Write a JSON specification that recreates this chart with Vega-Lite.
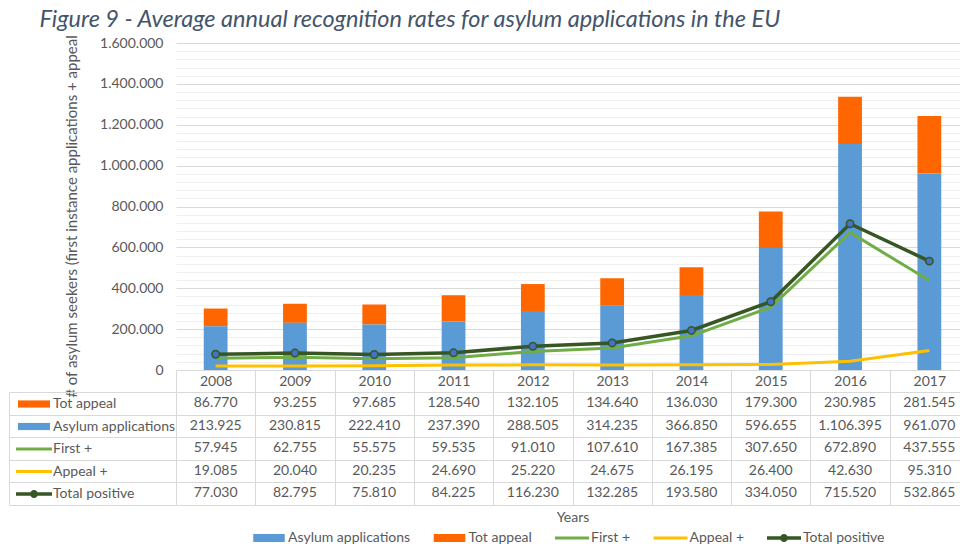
{
  "$schema": "https://vega.github.io/schema/vega-lite/v6.json",
  "padding": {"left": 8, "top": 8, "right": 0, "bottom": 0},
  "autosize": {"type": "pad"},
  "config": {
    "font": "Lato",
    "locale": {"number": {"decimal": ",", "thousands": ".", "grouping": [3], "currency": ["", " €"]}},
    "view": {"stroke": null},
    "legend": {"layout": {"bottom": {"anchor": "middle"}}}
  },
  "title": {
    "text": "Figure 9 - Average annual recognition rates for asylum applications in the EU",
    "anchor": "start",
    "frame": "bounds",
    "fontSize": 23.5,
    "fontStyle": "italic",
    "fontWeight": "normal",
    "color": "#44546A",
    "dx": 31,
    "offset": 3
  },
  "datasets": {
    "asylum": [
      {"year": "2008", "series": "Tot appeal", "value": 86770},
      {"year": "2009", "series": "Tot appeal", "value": 93255},
      {"year": "2010", "series": "Tot appeal", "value": 97685},
      {"year": "2011", "series": "Tot appeal", "value": 128540},
      {"year": "2012", "series": "Tot appeal", "value": 132105},
      {"year": "2013", "series": "Tot appeal", "value": 134640},
      {"year": "2014", "series": "Tot appeal", "value": 136030},
      {"year": "2015", "series": "Tot appeal", "value": 179300},
      {"year": "2016", "series": "Tot appeal", "value": 230985},
      {"year": "2017", "series": "Tot appeal", "value": 281545},
      {"year": "2008", "series": "Asylum applications", "value": 213925},
      {"year": "2009", "series": "Asylum applications", "value": 230815},
      {"year": "2010", "series": "Asylum applications", "value": 222410},
      {"year": "2011", "series": "Asylum applications", "value": 237390},
      {"year": "2012", "series": "Asylum applications", "value": 288505},
      {"year": "2013", "series": "Asylum applications", "value": 314235},
      {"year": "2014", "series": "Asylum applications", "value": 366850},
      {"year": "2015", "series": "Asylum applications", "value": 596655},
      {"year": "2016", "series": "Asylum applications", "value": 1106395},
      {"year": "2017", "series": "Asylum applications", "value": 961070},
      {"year": "2008", "series": "First +", "value": 57945},
      {"year": "2009", "series": "First +", "value": 62755},
      {"year": "2010", "series": "First +", "value": 55575},
      {"year": "2011", "series": "First +", "value": 59535},
      {"year": "2012", "series": "First +", "value": 91010},
      {"year": "2013", "series": "First +", "value": 107610},
      {"year": "2014", "series": "First +", "value": 167385},
      {"year": "2015", "series": "First +", "value": 307650},
      {"year": "2016", "series": "First +", "value": 672890},
      {"year": "2017", "series": "First +", "value": 437555},
      {"year": "2008", "series": "Appeal +", "value": 19085},
      {"year": "2009", "series": "Appeal +", "value": 20040},
      {"year": "2010", "series": "Appeal +", "value": 20235},
      {"year": "2011", "series": "Appeal +", "value": 24690},
      {"year": "2012", "series": "Appeal +", "value": 25220},
      {"year": "2013", "series": "Appeal +", "value": 24675},
      {"year": "2014", "series": "Appeal +", "value": 26195},
      {"year": "2015", "series": "Appeal +", "value": 26400},
      {"year": "2016", "series": "Appeal +", "value": 42630},
      {"year": "2017", "series": "Appeal +", "value": 95310},
      {"year": "2008", "series": "Total positive", "value": 77030},
      {"year": "2009", "series": "Total positive", "value": 82795},
      {"year": "2010", "series": "Total positive", "value": 75810},
      {"year": "2011", "series": "Total positive", "value": 84225},
      {"year": "2012", "series": "Total positive", "value": 116230},
      {"year": "2013", "series": "Total positive", "value": 132285},
      {"year": "2014", "series": "Total positive", "value": 193580},
      {"year": "2015", "series": "Total positive", "value": 334050},
      {"year": "2016", "series": "Total positive", "value": 715520},
      {"year": "2017", "series": "Total positive", "value": 532865}
    ]
  },
  "data": {"name": "asylum"},
  "bounds": "flush",
  "spacing": 22,
  "vconcat": [
    {
      "width": 793,
      "height": 327,
      "encoding": {
        "x": {
          "field": "year", "type": "ordinal",
          "scale": {"type": "band", "paddingInner": 0, "paddingOuter": 0},
          "axis": {
            "title": null, "labelAngle": 0, "labelFontSize": 14, "labelColor": "#595959",
            "labelBaseline": "middle", "labelPadding": -11,
            "ticks": true, "tickBand": "extent", "tickSize": 22, "tickColor": "#d9d9d9",
            "domainColor": "#d9d9d9", "grid": false
          }
        },
        "y": {
          "field": "value", "type": "quantitative",
          "scale": {"domain": [0, 1600000], "nice": false},
          "axis": {
            "title": "# of asylum seekers (first instance applications + appeal",
            "values": [0, 40000, 80000, 120000, 160000, 200000, 240000, 280000, 320000, 360000, 400000, 440000, 480000, 520000, 560000, 600000, 640000, 680000, 720000, 760000, 800000, 840000, 880000, 920000, 960000, 1000000, 1040000, 1080000, 1120000, 1160000, 1200000, 1240000, 1280000, 1320000, 1360000, 1400000, 1440000, 1480000, 1520000, 1560000, 1600000],
            "format": ",d",
            "labelExpr": "datum.value % 200000 === 0 ? datum.label : ''",
            "labelOverlap": false,
            "labelFontSize": 14, "labelColor": "#595959", "labelPadding": 13,
            "ticks": false, "domain": false, "grid": true,
            "gridColor": {"condition": {"test": "datum.value % 200000 === 0", "value": "#d9d9d9"}, "value": "#efefef"},
            "titleFontSize": 15, "titleFontWeight": "normal", "titleColor": "#595959",
            "titlePadding": 20, "titleY": 173
          }
        }
      },
      "layer": [
        {
          "transform": [{"filter": {"field": "series", "oneOf": ["Asylum applications", "Tot appeal"]}}],
          "mark": {"type": "bar", "width": {"band": 0.3}},
          "encoding": {
            "y": {"field": "value", "type": "quantitative", "stack": "zero"},
            "order": {"field": "series", "type": "nominal", "sort": "ascending"},
            "color": {
              "field": "series", "type": "nominal",
              "scale": {
                "domain": ["Asylum applications", "Tot appeal", "First +", "Appeal +", "Total positive"],
                "range": ["#5B9BD5", "#FF6600", "#70AD47", "#FFC000", "#375623"]
              },
              "legend": null
            }
          }
        },
        {
          "transform": [{"filter": {"field": "series", "equal": "Appeal +"}}],
          "mark": {"type": "line", "strokeWidth": 3},
          "encoding": {
            "color": {"field": "series", "type": "nominal", "legend": null}
          }
        },
        {
          "transform": [{"filter": {"field": "series", "equal": "First +"}}],
          "mark": {"type": "line", "strokeWidth": 3},
          "encoding": {
            "color": {"field": "series", "type": "nominal", "legend": null}
          }
        },
        {
          "transform": [{"filter": {"field": "series", "equal": "Total positive"}}],
          "mark": {"type": "line", "strokeWidth": 3.5},
          "encoding": {
            "color": {"field": "series", "type": "nominal", "legend": null}
          }
        },
        {
          "transform": [{"filter": {"field": "series", "equal": "Total positive"}}],
          "mark": {"type": "point", "filled": true, "size": 55, "fill": "#4472C4", "stroke": "#375623", "strokeWidth": 1.5, "opacity": 1}
        }
      ]
    },
    {
      "width": 793,
      "height": 112.5,
      "layer": [
        {
          "mark": {"type": "text", "fontSize": 14, "color": "#595959"},
          "encoding": {
            "x": {
              "field": "year", "type": "ordinal",
              "scale": {"type": "band", "paddingInner": 0, "paddingOuter": 0},
              "axis": {
                "orient": "bottom", "title": "Years", "labels": false, "ticks": false, "domain": false,
                "grid": true, "tickBand": "extent", "gridColor": "#d9d9d9",
                "titleFontSize": 14, "titleFontWeight": "normal", "titleColor": "#595959", "titlePadding": 6
              }
            },
            "y": {
              "field": "series", "type": "nominal",
              "scale": {"type": "band", "domain": ["Tot appeal", "Asylum applications", "First +", "Appeal +", "Total positive"], "paddingInner": 0, "paddingOuter": 0},
              "axis": {
                "title": null, "labels": false, "offset": 167, "domainColor": "#d9d9d9",
                "ticks": true, "tickBand": "extent", "tickSize": -167, "tickColor": "#d9d9d9",
                "grid": true, "gridColor": "#d9d9d9"
              }
            },
            "text": {"field": "value", "type": "quantitative", "format": ",d"}
          }
        },
        {
          "mark": {"type": "point", "filled": true, "size": 0, "opacity": 1},
          "encoding": {
            "x": {"field": "year", "type": "ordinal"},
            "y": {"field": "series", "type": "nominal"},
            "fill": {
              "field": "series", "type": "nominal",
              "scale": {
                "domain": ["Tot appeal", "Asylum applications", "First +", "Appeal +", "Total positive"],
                "range": ["#FF6600", "#5B9BD5", "#70AD47", "#FFC000", "#375623"]
              },
              "legend": {"orient": "left", "title": null, "offset": -172, "symbolSize": 256, "symbolStrokeWidth": 0, "symbolOpacity": 1, "labelFontSize": 14, "labelColor": "#595959", "labelOffset": 11, "rowPadding": 7.5, "padding": 4, "labelLimit": 300}
            },
            "shape": {
              "field": "series", "type": "nominal",
              "scale": {
                "domain": ["Tot appeal", "Asylum applications", "First +", "Appeal +", "Total positive"],
                "range": [
                  "M-2,-0.45H2V0.45H-2Z",
                  "M-2,-0.45H2V0.45H-2Z",
                  "M-2.25,-0.19H2.25V0.19H-2.25Z",
                  "M-2.25,-0.19H2.25V0.19H-2.25Z",
                  "M-2.25,-0.22H2.25V0.22H-2.25Z M-0.5,0A0.5,0.5 0 1,1 0.5,0A0.5,0.5 0 1,1 -0.5,0Z"
                ]
              },
              "legend": {"orient": "left", "title": null, "offset": -172, "symbolSize": 256, "symbolStrokeWidth": 0, "symbolOpacity": 1, "labelFontSize": 14, "labelColor": "#595959", "labelOffset": 11, "rowPadding": 7.5, "padding": 4, "labelLimit": 300}
            }
          }
        },
        {
          "mark": {"type": "point", "filled": true, "size": 0, "opacity": 1},
          "encoding": {
            "x": {"field": "year", "type": "ordinal"},
            "y": {"field": "series", "type": "nominal"},
            "fill": {
              "field": "series", "type": "nominal",
              "scale": {
                "domain": ["Asylum applications", "Tot appeal", "First +", "Appeal +", "Total positive"],
                "range": ["#5B9BD5", "#FF6600", "#70AD47", "#FFC000", "#375623"]
              },
              "legend": {"orient": "bottom", "direction": "horizontal", "title": null, "offset": 5, "symbolSize": 256, "symbolStrokeWidth": 0, "symbolOpacity": 1, "labelFontSize": 14, "labelColor": "#595959", "labelOffset": 11, "columnPadding": 22.5, "padding": 0, "labelLimit": 300}
            },
            "shape": {
              "field": "series", "type": "nominal",
              "scale": {
                "domain": ["Asylum applications", "Tot appeal", "First +", "Appeal +", "Total positive"],
                "range": [
                  "M-1.97,-0.5H1.97V0.5H-1.97Z",
                  "M-1.97,-0.5H1.97V0.5H-1.97Z",
                  "M-2.125,-0.19H2.125V0.19H-2.125Z",
                  "M-2.125,-0.19H2.125V0.19H-2.125Z",
                  "M-2.125,-0.22H2.125V0.22H-2.125Z M-0.5,0A0.5,0.5 0 1,1 0.5,0A0.5,0.5 0 1,1 -0.5,0Z"
                ]
              },
              "legend": {"orient": "bottom", "direction": "horizontal", "title": null, "offset": 5, "symbolSize": 256, "symbolStrokeWidth": 0, "symbolOpacity": 1, "labelFontSize": 14, "labelColor": "#595959", "labelOffset": 11, "columnPadding": 22.5, "padding": 0, "labelLimit": 300}
            }
          }
        }
      ],
      "resolve": {
        "scale": {"fill": "independent", "shape": "independent"},
        "legend": {"fill": "independent", "shape": "independent"}
      }
    }
  ]
}
